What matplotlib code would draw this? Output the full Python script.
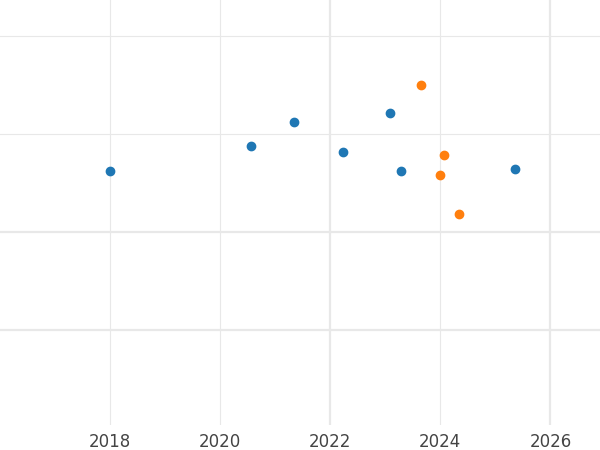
import matplotlib
matplotlib.use("Agg")
import matplotlib.pyplot as plt

blue_x = [2018.0, 2020.56, 2021.35, 2022.24, 2023.09, 2023.29, 2025.36]
blue_y = [2.62, 2.88, 3.12, 2.82, 3.22, 2.62, 2.64]
orange_x = [2023.65, 2024.07, 2024.0, 2024.33]
orange_y = [3.50, 2.79, 2.58, 2.18]
xticks = [2018, 2020, 2022, 2024, 2026]

fig = plt.figure(figsize=(6, 4.5), dpi=100)
ax = fig.add_axes([0, 0.056, 1, 0.944])
ax.set_xlim(2016, 2026.9)
ax.set_ylim(0.03, 4.37)
for x in xticks:
    lw = 1.6 if x in (2022, 2026) else 0.8
    ax.axvline(x, color="#e8e8e8", lw=lw, zorder=0)
for i, y in enumerate([1, 2, 3, 4]):
    lw = 1.6 if y in (1, 2) else 0.8
    ax.axhline(y, color="#e8e8e8", lw=lw, zorder=0)
ax.scatter(blue_x, blue_y, color="#1f77b4", s=36, zorder=3)
ax.scatter(orange_x, orange_y, color="#ff7f0e", s=36, zorder=3)
ax.set_xticks(xticks)
ax.set_xticklabels([str(x) for x in xticks], fontsize=12, color="#444444")
ax.set_yticks([])
ax.tick_params(axis="x", length=0, pad=6)
for s in ax.spines.values():
    s.set_visible(False)
fig.savefig("out.png", dpi=100)
